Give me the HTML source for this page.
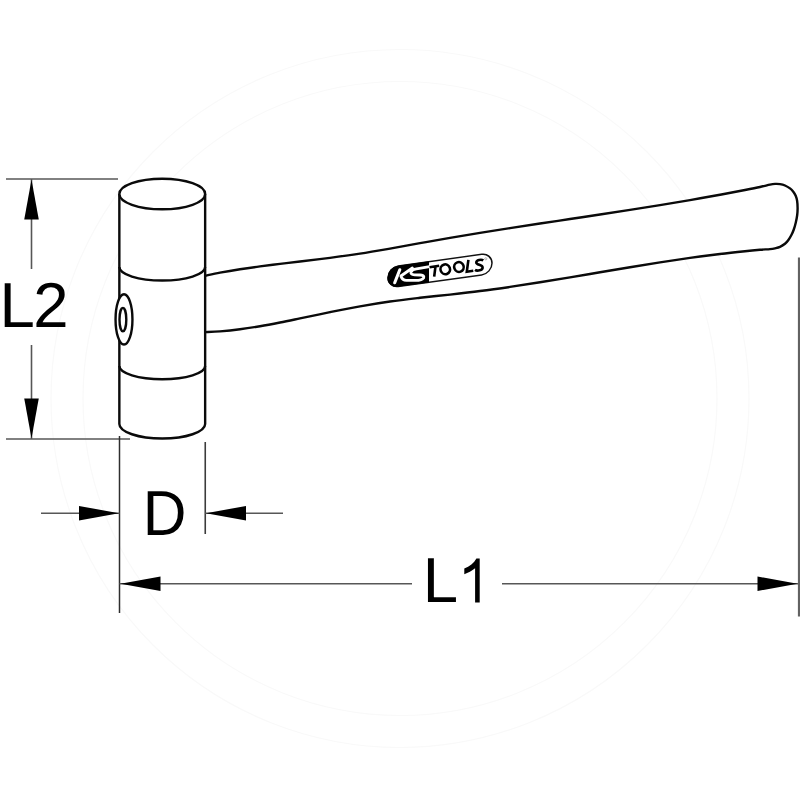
<!DOCTYPE html>
<html><head><meta charset="utf-8"><style>
html,body{margin:0;padding:0;background:#fff;width:800px;height:800px;overflow:hidden}
svg{position:absolute;left:0;top:0;display:block}
text{font-family:"Liberation Sans",sans-serif}
</style></head><body>
<svg width="800" height="800" viewBox="0 0 800 800" style="text-rendering:geometricPrecision">
<g fill="none" stroke="#f9f9f9" stroke-width="1.2">
<circle cx="400" cy="398.5" r="349"/>
<circle cx="400" cy="398.5" r="317"/>
</g>
<line x1="6.00" y1="179.00" x2="118.00" y2="179.00" stroke="#575757" stroke-width="1.60"/>
<line x1="6.00" y1="439.00" x2="130.00" y2="439.00" stroke="#575757" stroke-width="1.60"/>
<line x1="31.50" y1="179.00" x2="31.50" y2="269.00" stroke="#575757" stroke-width="1.60"/>
<line x1="31.50" y1="345.00" x2="31.50" y2="439.00" stroke="#575757" stroke-width="1.60"/>
<polygon points="31.50,179.50 24.25,219.50 38.75,219.50" fill="#000"/>
<polygon points="31.50,438.50 24.25,398.50 38.75,398.50" fill="#000"/>
<line x1="119.50" y1="436.00" x2="119.50" y2="613.00" stroke="#2e2e2e" stroke-width="1.50"/>
<line x1="205.25" y1="442.00" x2="205.25" y2="534.00" stroke="#3c3c3c" stroke-width="1.60"/>
<line x1="41.00" y1="513.20" x2="119.50" y2="513.20" stroke="#575757" stroke-width="1.60"/>
<line x1="205.30" y1="513.20" x2="283.00" y2="513.20" stroke="#575757" stroke-width="1.60"/>
<polygon points="119.00,513.20 79.00,505.95 79.00,520.45" fill="#000"/>
<polygon points="206.00,513.20 246.00,505.95 246.00,520.45" fill="#000"/>
<line x1="119.50" y1="583.80" x2="412.00" y2="583.80" stroke="#575757" stroke-width="1.60"/>
<line x1="502.00" y1="583.80" x2="798.00" y2="583.80" stroke="#575757" stroke-width="1.60"/>
<line x1="799.00" y1="257.50" x2="799.00" y2="616.50" stroke="#626262" stroke-width="2.20"/>
<polygon points="120.50,583.80 160.50,576.55 160.50,591.05" fill="#000"/>
<polygon points="797.50,583.80 757.50,576.55 757.50,591.05" fill="#000"/>
<text x="-0.52" y="327.10" font-family="Liberation Sans" font-size="63.5" fill="#000">L</text>
<text x="33.19" y="327.10" font-family="Liberation Sans" font-size="63.5" fill="#000">2</text>
<g transform="translate(147.74,535) scale(0.953,1)"><text x="-5.22" y="0" font-family="Liberation Sans" font-size="63.5" fill="#000">D</text></g>
<text x="422.80" y="602.45" font-family="Liberation Sans" font-size="63.5" fill="#000">L</text>
<path d="M479.7,558.5 L479.7,602.5 L475.1,602.5 L475.1,568.3 C472,570.8 468,573 464.3,574.2 L464.3,568.6 C469.5,566.6 474,563.2 476.4,558.5 Z" fill="#000"/>
<path d="M205.00,275.83 C207.50,275.31 214.17,273.79 220.00,272.69 C225.83,271.59 233.33,270.29 240.00,269.24 C246.67,268.19 253.33,267.27 260.00,266.38 C266.67,265.49 273.33,264.70 280.00,263.89 C286.67,263.08 291.67,262.53 300.00,261.52 C308.33,260.51 320.00,259.16 330.00,257.84 C340.00,256.52 350.00,255.14 360.00,253.60 C370.00,252.06 380.00,250.31 390.00,248.57 C400.00,246.83 410.00,244.96 420.00,243.18 C430.00,241.40 440.00,239.60 450.00,237.88 C460.00,236.16 470.00,234.50 480.00,232.88 C490.00,231.25 500.00,229.69 510.00,228.13 C520.00,226.57 530.00,225.05 540.00,223.53 C550.00,222.01 560.00,220.52 570.00,219.01 C580.00,217.50 590.00,216.01 600.00,214.49 C610.00,212.97 620.00,211.44 630.00,209.88 C640.00,208.32 650.00,206.74 660.00,205.11 C670.00,203.48 680.00,201.82 690.00,200.09 C700.00,198.36 710.83,196.43 720.00,194.75 C729.17,193.07 738.33,191.28 745.00,189.99 C751.67,188.70 755.83,187.89 760.00,186.99 C764.17,186.09 767.50,185.12 770.00,184.60 C772.50,184.08 773.33,183.98 775.00,183.90 C776.67,183.82 778.33,183.83 780.00,184.10 C781.67,184.37 783.33,184.78 785.00,185.50 C786.67,186.22 788.62,187.35 790.00,188.40 C791.38,189.45 792.35,190.57 793.30,191.80 C794.25,193.03 795.07,194.30 795.70,195.80 C796.33,197.30 796.78,198.77 797.10,200.80 C797.42,202.83 797.58,205.63 797.60,208.00 C797.62,210.37 797.50,212.58 797.20,215.00 C796.90,217.42 796.37,220.08 795.80,222.50 C795.23,224.92 794.53,227.42 793.80,229.50 C793.07,231.58 792.30,233.25 791.40,235.00 C790.50,236.75 789.47,238.53 788.40,240.00 C787.33,241.47 786.40,242.65 785.00,243.80 C783.60,244.95 781.67,246.15 780.00,246.90 C778.33,247.65 776.67,247.93 775.00,248.30 C773.33,248.67 772.50,248.85 770.00,249.10 C767.50,249.35 764.17,249.46 760.00,249.81 C755.83,250.16 751.67,250.51 745.00,251.20 C738.33,251.89 729.17,252.84 720.00,253.96 C710.83,255.08 700.00,256.51 690.00,257.91 C680.00,259.31 670.00,260.83 660.00,262.39 C650.00,263.94 640.00,265.59 630.00,267.24 C620.00,268.89 610.00,270.60 600.00,272.29 C590.00,273.98 580.00,275.69 570.00,277.36 C560.00,279.03 550.00,280.70 540.00,282.29 C530.00,283.88 520.00,285.46 510.00,286.92 C500.00,288.38 490.00,289.79 480.00,291.06 C470.00,292.33 460.00,293.45 450.00,294.57 C440.00,295.69 430.00,296.63 420.00,297.78 C410.00,298.93 400.00,300.05 390.00,301.47 C380.00,302.89 370.00,304.54 360.00,306.32 C350.00,308.10 340.00,310.13 330.00,312.15 C320.00,314.17 308.33,316.69 300.00,318.42 C291.67,320.15 286.67,321.22 280.00,322.52 C273.33,323.82 266.67,325.10 260.00,326.23 C253.33,327.36 246.67,328.42 240.00,329.28 C233.33,330.14 225.83,330.90 220.00,331.38 C214.17,331.86 207.50,332.02 205.00,332.15" fill="#fff" stroke="#0a0a0a" stroke-width="2.40" stroke-linejoin="round"/>
<g fill="#fff" stroke="#0a0a0a" stroke-width="2.40">
<path d="M119.35,194 L119.35,424 A42.90,14.5 0 0 0 205.15,424 L205.15,194"/>
<ellipse cx="162.25" cy="194" rx="42.90" ry="15.3"/>
<path d="M119.35,267 A42.90,13.5 0 0 0 205.15,267" fill="none"/>
<path d="M119.35,366 A42.90,13.2 0 0 0 205.15,366" fill="none"/>
<ellipse cx="124" cy="319.4" rx="8.45" ry="25.1"/>
<ellipse cx="122.9" cy="319.6" rx="3.4" ry="11.7"/>
</g>
<g transform="translate(440,270.4) skewY(-7.9)">
<rect x="-52" y="-10.3" width="104" height="20.6" rx="10.3" ry="10.3" fill="#fff" stroke="#111" stroke-width="1.5"/>
<path d="M-11,-10.6 L-42,-10.6 A10.6,10.6 0 0 0 -42,10.6 L-11,10.6 Z" fill="#000"/>
</g>
<path d="M394.7,282.7 L399.8,269.8" stroke="#fff" stroke-width="3.1" stroke-linecap="round" fill="none"/>
<path d="M412.4,268 L400.9,276 Q402.2,280.2 406.5,280.4 L418.5,280.3 Q424.3,279.2 423.8,276.7 Q423.2,274.8 419.5,275 L414.5,274.8 Q410.2,274.6 411,272 Q412,269.5 416.5,268.8 L429.5,266.6" stroke="#fff" stroke-width="2.8" stroke-linecap="round" stroke-linejoin="round" fill="none"/>
<g fill="none" stroke="#000" stroke-width="2.60">
<path d="M429.6,267.3 L439.2,265.8 M435.5,266.2 L434.2,276.6"/>
<ellipse cx="445.25" cy="269.3" rx="4.75" ry="4.9" transform="rotate(-20 445.25 269.3)"/>
<ellipse cx="458.95" cy="267" rx="4.75" ry="4.9" transform="rotate(-20 458.95 267)"/>
<path d="M468.4,259.8 L466.8,271.7 L473.3,270.7"/>
<path d="M483.3,260.4 C481.5,259.2 476.2,259.8 476.3,262.6 C476.4,265 482.3,264.6 482.6,267.3 C482.9,270.3 477,271.3 475,269.9"/>
</g>
<circle cx="485.8" cy="258.8" r="1.1" fill="none" stroke="#888" stroke-width="0.6"/>
</svg>
</body></html>
